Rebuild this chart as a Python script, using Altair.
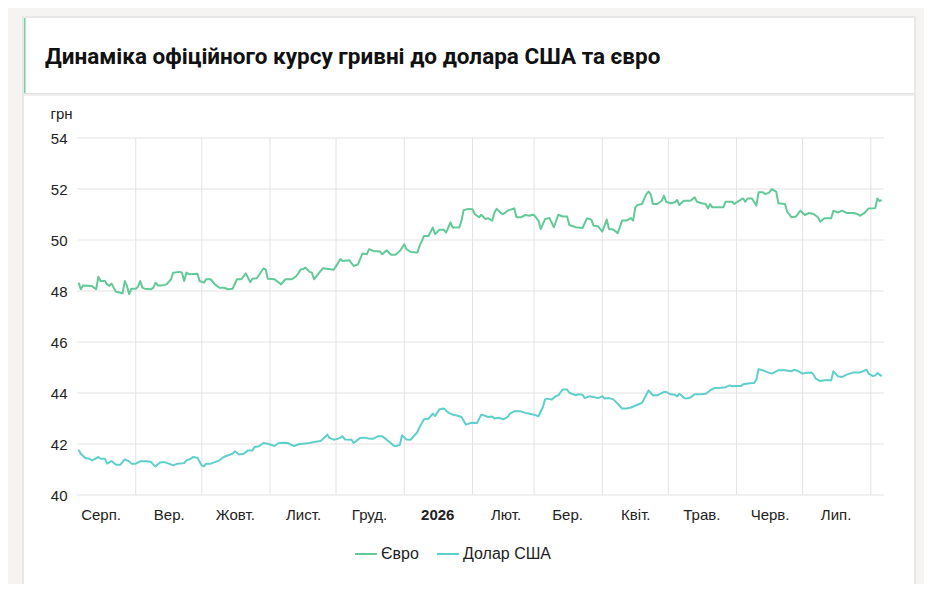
import json
import altair as alt
import pandas as pd

TITLE = "Динаміка офіційного курсу гривні до долара США та євро"
Y_TITLE = "грн"
series_names = ["Євро", "Долар США"]
series_colors = ["#63c998", "#5fcfcb"]

eur_dates = [
    "2025-08-06", "2025-08-07", "2025-08-08", "2025-08-12", "2025-08-13", "2025-08-14", "2025-08-15",
    "2025-08-16", "2025-08-18", "2025-08-19", "2025-08-20", "2025-08-21", "2025-08-22", "2025-08-23",
    "2025-08-25", "2025-08-26", "2025-08-27", "2025-08-28", "2025-08-29", "2025-08-30", "2025-09-01",
    "2025-09-02", "2025-09-03", "2025-09-04", "2025-09-05", "2025-09-08", "2025-09-09", "2025-09-10",
    "2025-09-11", "2025-09-13", "2025-09-15", "2025-09-17", "2025-09-18", "2025-09-21", "2025-09-22",
    "2025-09-23", "2025-09-24", "2025-09-25", "2025-09-29", "2025-09-30", "2025-10-02", "2025-10-03",
    "2025-10-05", "2025-10-07", "2025-10-09", "2025-10-11", "2025-10-13", "2025-10-15", "2025-10-17",
    "2025-10-19", "2025-10-21", "2025-10-23", "2025-10-24", "2025-10-26", "2025-10-29", "2025-10-30",
    "2025-10-31", "2025-11-03", "2025-11-05", "2025-11-06", "2025-11-08", "2025-11-11", "2025-11-13",
    "2025-11-15", "2025-11-16", "2025-11-17", "2025-11-19", "2025-11-20", "2025-11-21", "2025-11-24",
    "2025-11-25", "2025-11-30", "2025-12-03", "2025-12-04", "2025-12-07", "2025-12-09", "2025-12-11",
    "2025-12-13", "2025-12-15", "2025-12-16", "2025-12-18", "2025-12-21", "2025-12-22", "2025-12-24",
    "2025-12-26", "2025-12-28", "2025-12-30", "2026-01-01", "2026-01-02", "2026-01-04", "2026-01-07",
    "2026-01-08", "2026-01-10", "2026-01-12", "2026-01-14", "2026-01-15", "2026-01-17", "2026-01-19",
    "2026-01-20", "2026-01-22", "2026-01-23", "2026-01-26", "2026-01-27", "2026-01-28", "2026-01-30",
    "2026-02-01", "2026-02-02", "2026-02-04", "2026-02-05", "2026-02-07", "2026-02-08", "2026-02-10",
    "2026-02-11", "2026-02-12", "2026-02-14", "2026-02-15", "2026-02-17", "2026-02-20", "2026-02-21",
    "2026-02-23", "2026-02-25", "2026-02-27", "2026-02-28", "2026-03-01", "2026-03-03", "2026-03-04",
    "2026-03-06", "2026-03-08", "2026-03-10", "2026-03-12", "2026-03-14", "2026-03-16", "2026-03-17",
    "2026-03-20", "2026-03-23", "2026-03-25", "2026-03-27", "2026-03-28", "2026-03-30", "2026-04-01",
    "2026-04-03", "2026-04-04", "2026-04-06", "2026-04-08", "2026-04-10", "2026-04-12", "2026-04-14",
    "2026-04-15", "2026-04-16", "2026-04-17", "2026-04-19", "2026-04-21", "2026-04-22", "2026-04-23",
    "2026-04-24", "2026-04-26", "2026-04-28", "2026-04-29", "2026-04-30", "2026-05-02", "2026-05-04",
    "2026-05-05", "2026-05-06", "2026-05-08", "2026-05-11", "2026-05-13", "2026-05-14", "2026-05-16",
    "2026-05-18", "2026-05-19", "2026-05-20", "2026-05-21", "2026-05-26", "2026-05-27", "2026-05-30",
    "2026-05-31", "2026-06-01", "2026-06-03", "2026-06-04", "2026-06-05", "2026-06-06", "2026-06-08",
    "2026-06-10", "2026-06-11", "2026-06-13", "2026-06-14", "2026-06-16", "2026-06-17", "2026-06-19",
    "2026-06-20", "2026-06-23", "2026-06-24", "2026-06-26", "2026-06-28", "2026-06-30", "2026-07-02",
    "2026-07-04", "2026-07-06", "2026-07-08", "2026-07-09", "2026-07-11", "2026-07-14", "2026-07-15",
    "2026-07-17", "2026-07-19", "2026-07-21", "2026-07-24", "2026-07-26", "2026-07-27", "2026-07-29",
    "2026-07-31", "2026-08-03", "2026-08-04", "2026-08-05", "2026-08-06",
]
eur_rates = [
    48.33, 48.07, 48.22, 48.20, 48.13, 48.07, 48.56,
    48.39, 48.39, 48.26, 48.20, 48.29, 48.13, 47.97,
    47.93, 47.91, 48.39, 48.20, 47.87, 48.09, 48.09,
    48.17, 48.39, 48.13, 48.09, 48.07, 48.13, 48.33,
    48.22, 48.22, 48.26, 48.46, 48.72, 48.75, 48.72,
    48.39, 48.72, 48.66, 48.68, 48.39, 48.33, 48.46,
    48.46, 48.26, 48.13, 48.13, 48.07, 48.09, 48.46,
    48.46, 48.69, 48.35, 48.48, 48.50, 48.88, 48.85,
    48.48, 48.46, 48.33, 48.26, 48.46, 48.46, 48.59,
    48.85, 48.85, 48.92, 48.75, 48.72, 48.46, 48.79,
    48.89, 48.83, 49.25, 49.18, 49.21, 48.98, 49.05,
    49.47, 49.44, 49.64, 49.57, 49.55, 49.44, 49.60,
    49.42, 49.42, 49.57, 49.83, 49.64, 49.53, 49.51,
    49.77, 50.16, 50.16, 50.49, 50.23, 50.40, 50.40,
    50.29, 50.69, 50.49, 50.49, 50.75, 51.17, 51.22,
    51.21, 51.02, 50.89, 50.99, 50.82, 50.86, 50.76,
    51.08, 51.22, 51.05, 51.02, 51.15, 51.24, 50.89,
    50.89, 50.98, 50.95, 50.99, 50.98, 50.76, 50.43,
    50.82, 50.86, 50.50, 50.99, 50.92, 50.92, 50.59,
    50.50, 50.47, 50.85, 50.80, 50.56, 50.54, 50.33,
    50.80, 50.43, 50.41, 50.27, 50.76, 50.76, 50.86,
    50.76, 51.28, 51.37, 51.41, 51.80, 51.90, 51.80,
    51.41, 51.41, 51.54, 51.74, 51.50, 51.44, 51.48,
    51.57, 51.37, 51.54, 51.54, 51.67, 51.50, 51.44,
    51.41, 51.24, 51.41, 51.28, 51.28, 51.50, 51.50,
    51.41, 51.48, 51.58, 51.63, 51.50, 51.63, 51.63,
    51.35, 51.87, 51.87, 51.80, 51.87, 52.00, 51.90,
    51.44, 51.41, 51.11, 50.89, 50.92, 51.15, 50.98,
    51.06, 51.02, 50.89, 50.72, 50.85, 50.85, 51.15,
    51.08, 51.15, 51.06, 51.06, 51.02, 50.95, 51.05,
    51.24, 51.25, 51.63, 51.52, 51.58,
]

usd_dates = [
    "2025-08-06", "2025-08-07", "2025-08-09", "2025-08-11", "2025-08-12", "2025-08-13", "2025-08-15",
    "2025-08-16", "2025-08-18", "2025-08-19", "2025-08-21", "2025-08-23", "2025-08-25", "2025-08-27",
    "2025-08-29", "2025-08-30", "2025-09-01", "2025-09-03", "2025-09-06", "2025-09-08", "2025-09-09",
    "2025-09-10", "2025-09-12", "2025-09-14", "2025-09-16", "2025-09-18", "2025-09-20", "2025-09-23",
    "2025-09-24", "2025-09-26", "2025-09-27", "2025-09-29", "2025-10-01", "2025-10-02", "2025-10-03",
    "2025-10-05", "2025-10-07", "2025-10-09", "2025-10-11", "2025-10-13", "2025-10-15", "2025-10-16",
    "2025-10-18", "2025-10-20", "2025-10-22", "2025-10-24", "2025-10-25", "2025-10-27", "2025-10-29",
    "2025-10-31", "2025-11-02", "2025-11-03", "2025-11-05", "2025-11-07", "2025-11-09", "2025-11-12",
    "2025-11-14", "2025-11-16", "2025-11-19", "2025-11-21", "2025-11-24", "2025-11-26", "2025-11-27",
    "2025-11-28", "2025-11-30", "2025-12-02", "2025-12-04", "2025-12-05", "2025-12-08", "2025-12-09",
    "2025-12-12", "2025-12-14", "2025-12-16", "2025-12-18", "2025-12-20", "2025-12-22", "2025-12-24",
    "2025-12-25", "2025-12-27", "2025-12-28", "2025-12-30", "2025-12-31", "2026-01-02", "2026-01-04",
    "2026-01-07", "2026-01-08", "2026-01-10", "2026-01-12", "2026-01-14", "2026-01-15", "2026-01-17",
    "2026-01-19", "2026-01-21", "2026-01-23", "2026-01-25", "2026-01-27", "2026-01-29", "2026-01-31",
    "2026-02-02", "2026-02-03", "2026-02-05", "2026-02-06", "2026-02-08", "2026-02-10", "2026-02-11",
    "2026-02-13", "2026-02-15", "2026-02-17", "2026-02-18", "2026-02-20", "2026-02-23", "2026-02-25",
    "2026-02-27", "2026-03-01", "2026-03-03", "2026-03-05", "2026-03-06", "2026-03-07", "2026-03-09",
    "2026-03-11", "2026-03-12", "2026-03-14", "2026-03-16", "2026-03-17", "2026-03-20", "2026-03-21",
    "2026-03-23", "2026-03-24", "2026-03-26", "2026-03-28", "2026-03-30", "2026-04-01", "2026-04-02",
    "2026-04-04", "2026-04-06", "2026-04-08", "2026-04-10", "2026-04-12", "2026-04-14", "2026-04-17",
    "2026-04-19", "2026-04-21", "2026-04-22", "2026-04-24", "2026-04-26", "2026-04-29", "2026-04-30",
    "2026-05-02", "2026-05-04", "2026-05-05", "2026-05-06", "2026-05-08", "2026-05-09", "2026-05-11",
    "2026-05-13", "2026-05-16", "2026-05-18", "2026-05-20", "2026-05-22", "2026-05-25", "2026-05-27",
    "2026-05-29", "2026-05-30", "2026-06-01", "2026-06-03", "2026-06-04", "2026-06-07", "2026-06-09",
    "2026-06-10", "2026-06-11", "2026-06-13", "2026-06-15", "2026-06-17", "2026-06-19", "2026-06-20",
    "2026-06-23", "2026-06-26", "2026-06-27", "2026-06-29", "2026-07-01", "2026-07-02", "2026-07-05",
    "2026-07-06", "2026-07-07", "2026-07-09", "2026-07-11", "2026-07-14", "2026-07-15", "2026-07-17",
    "2026-07-19", "2026-07-21", "2026-07-24", "2026-07-27", "2026-07-30", "2026-07-31", "2026-08-02",
    "2026-08-03", "2026-08-04", "2026-08-05", "2026-08-06",
]
usd_rates = [
    41.78, 41.62, 41.45, 41.42, 41.36, 41.40, 41.49,
    41.42, 41.42, 41.23, 41.33, 41.19, 41.19, 41.40,
    41.32, 41.23, 41.23, 41.32, 41.32, 41.29, 41.19,
    41.12, 41.27, 41.29, 41.23, 41.16, 41.23, 41.25,
    41.36, 41.42, 41.49, 41.46, 41.16, 41.12, 41.23,
    41.23, 41.29, 41.36, 41.49, 41.56, 41.62, 41.71,
    41.59, 41.62, 41.75, 41.75, 41.88, 41.91, 42.04,
    42.01, 41.95, 41.92, 42.04, 42.05, 42.04, 41.92,
    41.99, 42.01, 42.04, 42.08, 42.12, 42.27, 42.37,
    42.24, 42.17, 42.21, 42.30, 42.18, 42.17, 42.04,
    42.24, 42.25, 42.21, 42.21, 42.30, 42.30, 42.17,
    42.10, 41.95, 41.91, 41.97, 42.34, 42.18, 42.17,
    42.47, 42.67, 42.97, 42.99, 43.19, 43.10, 43.36,
    43.39, 43.23, 43.15, 43.12, 43.06, 42.76, 42.82,
    42.83, 42.82, 43.15, 43.13, 43.06, 43.08, 43.00,
    43.03, 42.97, 43.06, 43.19, 43.28, 43.28, 43.22,
    43.19, 43.15, 43.09, 43.45, 43.75, 43.78, 43.74,
    43.88, 43.91, 44.14, 44.14, 44.01, 43.91, 43.95,
    43.93, 43.80, 43.87, 43.84, 43.80, 43.87, 43.78,
    43.80, 43.75, 43.58, 43.39, 43.39, 43.43, 43.54,
    43.61, 43.93, 44.10, 43.91, 43.91, 44.04, 44.04,
    43.95, 43.93, 43.87, 43.97, 43.82, 43.78, 43.82,
    43.95, 43.95, 43.97, 44.10, 44.20, 44.21, 44.23,
    44.30, 44.26, 44.27, 44.27, 44.34, 44.38, 44.39,
    44.53, 44.93, 44.89, 44.82, 44.76, 44.85, 44.89,
    44.89, 44.85, 44.91, 44.86, 44.76, 44.78, 44.80,
    44.72, 44.56, 44.47, 44.50, 44.50, 44.85, 44.66,
    44.63, 44.72, 44.80, 44.80, 44.91, 44.76, 44.66,
    44.69, 44.78, 44.72, 44.66,
]

grid_month_starts = [
    "2025-09-01", "2025-10-01", "2025-11-01", "2025-12-01", "2026-01-01", "2026-02-01",
    "2026-03-01", "2026-04-01", "2026-05-01", "2026-06-01", "2026-07-01", "2026-08-01",
]
label_days = [
    "2025-08-16", "2025-09-16", "2025-10-16", "2025-11-16", "2025-12-16", "2026-01-16",
    "2026-02-16", "2026-03-16", "2026-04-16", "2026-05-16", "2026-06-16", "2026-07-16",
]
# indexed by month number 0..11 (January shows the year)
month_names = ["2026", "Лют.", "Бер.", "Квіт.", "Трав.", "Черв.", "Лип.",
               "Серп.", "Вер.", "Жовт.", "Лист.", "Груд."]
y_ticks = [40, 42, 44, 46, 48, 50, 52, 54]

W, H = 807, 357
TITLE_FONT = "Roboto"
FONT = "Liberation Sans"
TEXT = "#222222"
GRID = "#e3e3e3"


def dt(s):
    y, m, d = (int(p) for p in s.split("-"))
    return alt.DateTime(year=y, month=m, date=d, utc=True)


df = pd.concat([
    pd.DataFrame({"date": eur_dates, "rate": eur_rates, "series": series_names[0]}),
    pd.DataFrame({"date": usd_dates, "rate": usd_rates, "series": series_names[1]}),
])

x_scale = alt.Scale(
    type="utc",
    domain=[alt.DateTime(year=2025, month=8, date=5, hours=7, utc=True),
            alt.DateTime(year=2026, month=8, date=7, utc=True)],
)
y_scale = alt.Scale(domain=[40, 54], nice=False, zero=False)

x_axis = alt.Axis(
    values=[dt(s) for s in label_days],
    labelExpr=json.dumps(month_names) + "[utcmonth(datum.value)]",
    labelFontWeight={"expr": "utcmonth(datum.value) === 0 ? 'bold' : 'normal'"},
    grid=False, domain=False, ticks=False, title=None, zindex=1,
    labelPadding=12, labelFontSize=15, labelFont=FONT, labelColor=TEXT,
    labelFlush=False, labelOverlap=False, labelBound=False,
)
y_axis = alt.Axis(
    values=y_ticks, grid=False, domain=False, ticks=False, zindex=1,
    labelPadding=10, labelFontSize=15, labelFont=FONT, labelColor=TEXT,
    title=Y_TITLE, titleAngle=0, titleX=-27, titleY=-20, titleAlign="left",
    titleBaseline="alphabetic", titleFontWeight="normal", titleFontSize=15,
    titleFont=FONT, titleColor=TEXT,
)

one = alt.Chart(pd.DataFrame({"t": [TITLE]}))

card_shadow = one.mark_rect(color="#e9e8e6").encode(
    x=alt.value(-55), x2=alt.value(839), y=alt.value(-122), y2=alt.value(480))
card = one.mark_rect(color="#ffffff").encode(
    x=alt.value(-53), x2=alt.value(837), y=alt.value(-120), y2=alt.value(480))
band_shadow1 = one.mark_rect(color="#dedede").encode(
    x=alt.value(-53), x2=alt.value(837), y=alt.value(-45), y2=alt.value(-44))
band_shadow2 = one.mark_rect(color="#efefef").encode(
    x=alt.value(-53), x2=alt.value(837), y=alt.value(-44), y2=alt.value(-42))
accent = one.mark_rect(color="#6fd3a3").encode(
    x=alt.value(-53), x2=alt.value(-51.5), y=alt.value(-120), y2=alt.value(-45))
title = one.mark_text(
    align="left", baseline="alphabetic", font=TITLE_FONT, fontSize=22.5,
    fontWeight="bold", color="#111111",
).encode(x=alt.value(-32), y=alt.value(-74), text="t:N")

vgrid = alt.Chart(pd.DataFrame({"date": grid_month_starts})).mark_rule(
    color=GRID, strokeWidth=1
).encode(
    x=alt.X("date:T", scale=x_scale, axis=x_axis),
    y=alt.value(0), y2=alt.value(H),
)

hgrid = alt.Chart(pd.DataFrame({"rate": y_ticks})).mark_rule(
    color=GRID, strokeWidth=1
).encode(
    y=alt.Y("rate:Q", scale=y_scale, axis=y_axis),
    x=alt.value(0), x2=alt.value(W),
)

lines = alt.Chart(df).mark_line(strokeWidth=2, strokeJoin="round").encode(
    x=alt.X("date:T", scale=x_scale, axis=x_axis),
    y=alt.Y("rate:Q", scale=y_scale, axis=y_axis),
    color=alt.Color(
        "series:N",
        scale=alt.Scale(domain=series_names, range=series_colors),
        sort=series_names,
        legend=alt.Legend(
            title=None, orient="none", legendX=277, legendY=404,
            direction="horizontal", labelFontSize=16, labelFont=FONT,
            labelColor=TEXT, symbolType="stroke", symbolStrokeWidth=2,
            symbolSize=484, columnPadding=14, labelOffset=3,
        ),
    ),
    detail="series:N",
)

chart = alt.layer(
    card_shadow, card, band_shadow1, band_shadow2, accent, title, vgrid, hgrid, lines
).properties(
    width=W, height=H,
    autosize=alt.AutoSizeParams(type="none"),
    padding={"left": 69, "top": 130, "right": 40, "bottom": 89},
    background="#f5f4f2",
).configure_view(stroke=None)

chart.save("out.html", embed_options={"renderer": "svg", "actions": False})
